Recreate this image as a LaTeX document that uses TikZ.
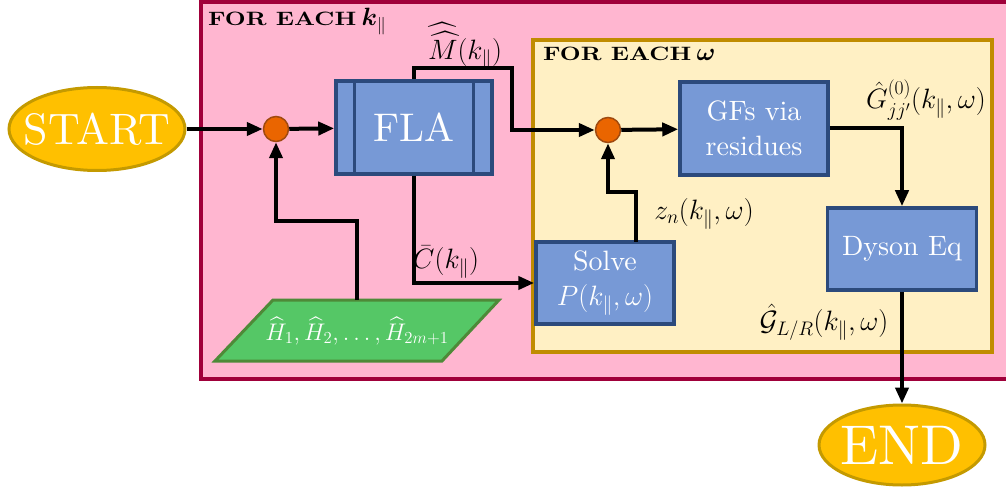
\RequirePackage{fix-cm}
\documentclass[tikz,border=0pt]{standalone}
\usepackage{amsmath,amssymb,graphicx}
\usepackage{fontspec}
\setmainfont{lmroman10-regular}[Extension=.otf,BoldFont=lmroman10-bold,ItalicFont=lmroman10-italic,BoldItalicFont=lmroman10-bolditalic]
\usetikzlibrary{arrows.meta,shapes.geometric,calc}
\definecolor{pinkfill}{HTML}{FFB6D0}
\definecolor{pinkdraw}{HTML}{A0003A}
\definecolor{yelfill}{HTML}{FFF0C4}
\definecolor{yeldraw}{HTML}{C08C00}
\definecolor{bluefill}{HTML}{7799D6}
\definecolor{bluedraw}{HTML}{2C4A7C}
\definecolor{grnfill}{HTML}{55C766}
\definecolor{grndraw}{HTML}{4E8A38}
\definecolor{orgfill}{HTML}{EA6500}
\definecolor{orgdraw}{HTML}{A04A10}
\definecolor{ellfill}{HTML}{FFC000}
\definecolor{elldraw}{HTML}{C49A00}
\newcommand{\foreachtxt}{\resizebox{148pt}{13.5pt}{\bfseries FOR EACH}}
\tikzset{
  term/.style={ellipse,fill=ellfill,draw=elldraw,line width=3pt,inner sep=0pt},
  termtxt/.style={text=white,inner sep=0pt},
  procbox/.style={rectangle,fill=bluefill,draw=bluedraw,line width=3.5pt,text=white,inner sep=0pt,align=center,font=\fontsize{28}{35}\selectfont},
  junc/.style={circle,fill=orgfill,draw=orgdraw,line width=1.5pt,minimum size=25pt,inner sep=0pt},
  arr/.style={line width=4pt,-{Triangle[length=16pt,width=13pt]}},
  lbl/.style={font=\fontsize{28}{30}\selectfont,inner sep=0pt},
  ttl/.style={anchor=west,inner sep=0pt},
  ttlsym/.style={anchor=base west,inner sep=0pt,font=\fontsize{25}{26}\selectfont}
}
\begin{document}
\begin{tikzpicture}[x=1pt,y=-1pt]
\useasboundingbox (0,0) rectangle (1006,489);
\begin{scope}
\clip (0,0) rectangle (1006,489);
\draw[fill=pinkfill,draw=pinkdraw,line width=4.5pt] (201,2) rectangle (1015,379);
\end{scope}
\draw[fill=yelfill,draw=yeldraw,line width=4.5pt] (533,40) rectangle (992,352);
\node[ttl] (t1) at (208,19) {\foreachtxt};
\node[ttlsym] (t1k) at ($(t1.base east)+(5,0)$) {$\boldsymbol{k}_\parallel$};
\node[ttl] (t2) at (543,54) {\foreachtxt};
\node[ttlsym] (t2w) at ($(t2.base east)+(5,0)$) {$\boldsymbol{\omega}$};

\node[term,minimum width=176pt,minimum height=83pt] (start) at (97,129) {};
\node[termtxt,font=\fontsize{44}{44}\selectfont] (starttxt) at (start.center) {START};
\node[term,minimum width=166pt,minimum height=80pt] (end) at (902,445) {};
\node[termtxt,font=\fontsize{56}{56}\selectfont] (endtxt) at (end.center) {END};

\node[junc] (j1) at (276,129) {};
\node[junc] (j2) at (608,130) {};

\node[procbox,minimum width=156pt,minimum height=93pt,font=\fontsize{40}{40}\selectfont] (fla) at (414,127.5) {FLA};
\draw[bluedraw,line width=3pt] ($(fla.north west)+(20,0)$) -- ($(fla.south west)+(20,0)$);
\draw[bluedraw,line width=3pt] ($(fla.north east)+(-20,0)$) -- ($(fla.south east)+(-20,0)$);

\node[procbox,minimum width=148pt,minimum height=93pt] (gf) at (754,128.5) {GFs via\\residues};
\node[procbox,minimum width=138pt,minimum height=82pt] (solve) at (605,283) {Solve\\$P(k_\parallel,\omega)$};
\node[procbox,minimum width=149pt,minimum height=82pt] (dyson) at (902,249) {Dyson Eq};

\draw[fill=grnfill,draw=grndraw,line width=3pt] (215,361) -- (273,300) -- (499,300) -- (442,361) -- cycle;
\node[lbl,text=white,font=\fontsize{24}{26}\selectfont] (hs) at (357,331) {$\widehat{H}_1,\widehat{H}_2,\ldots,\widehat{H}_{2m+1}$};
\coordinate (htop) at (357,300);

\draw[arr] (start) -- (j1);
\draw[arr] (j1) -- (fla);
\draw[arr] (htop) -- (357,221) -- (276,221) -- (j1);
\draw[arr] (fla.north) -- (414,68) -- (512,68) -- (512,130) -- (j2);
\draw[arr] (fla.south) -- (414,283) -- (solve.west);
\draw[arr] (j2) -- (gf);
\draw[arr] (636,241.5) -- (636,192) -- (608,192) -- (j2);
\draw[arr] (gf.east) -- (902,128.5) -- (dyson.north);
\draw[arr] (dyson.south) -- (end.north);

\node[lbl] (ml) at (465,46) {$\widehat{\widehat{M}}(k_\parallel)$};
\node[lbl] (cl) at (446,262) {$\bar{C}(k_\parallel)$};
\node[lbl] (zl) at (704,214) {$z_n(k_\parallel,\omega)$};
\node[lbl] (gl) at (926,100) {$\hat{G}^{(0)}_{jj'}(k_\parallel,\omega)$};
\node[lbl] (ll) at (824,322) {$\hat{\mathcal{G}}_{L/R}(k_\parallel,\omega)$};
\end{tikzpicture}
\end{document}
